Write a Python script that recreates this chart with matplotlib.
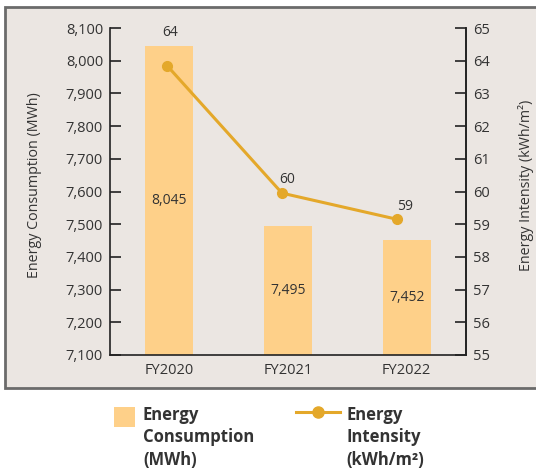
import matplotlib
matplotlib.use('Agg')
import matplotlib.pyplot as plt
from matplotlib.patches import Rectangle
from matplotlib.lines import Line2D

# Data
years = ['FY2020', 'FY2021', 'FY2022']
consumption = [8045, 7495, 7452]          # MWh
intensity = [63.85, 59.95, 59.15]          # kWh/m2
intensity_labels = ['64', '60', '59']
label_offsets = [(2, 24), (4, 10), (6, 9)]  # points from the markers

plt.rcParams['font.family'] = ['Open Sans', 'DejaVu Sans']
text_col = '#333333'
bar_col = '#FED089'
line_col = '#E4A82A'
bg_col = '#EBE6E2'

W, H = 536, 470
fig = plt.figure(figsize=(W / 100, H / 100), dpi=100)
fig.patch.set_facecolor('white')

# grey panel with border behind the chart
fig.add_artist(Rectangle((5 / W, 1 - 388 / H), 540 / W, 381 / H,
                         transform=fig.transFigure, facecolor=bg_col,
                         edgecolor='#6b6b6b', linewidth=2, zorder=0))

rect = [110 / W, 1 - 355 / H, 356 / W, 327 / H]
ax = fig.add_axes(rect)
ax.set_facecolor('none')
x = list(range(len(years)))
ax.bar(x, consumption, width=0.405, color=bar_col, zorder=1)
ax.set_ylim(7100, 8100)
ax.set_xlim(-0.5, 2.5)
ax.set_yticks(range(7100, 8101, 100))
ax.set_yticklabels([f'{v:,}' for v in range(7100, 8101, 100)])
ax.set_xticks(x)
ax.set_xticklabels(years)
ax.tick_params(axis='y', direction='in', length=8, width=1.2, colors='#222222',
               labelsize=10.5, pad=5, labelcolor=text_col)
ax.tick_params(axis='x', length=0, labelsize=10.5, labelcolor=text_col, pad=6)
for v, c in zip(x, consumption):
    ax.text(v, (c + 7100) / 2, f'{c:,}', ha='center', va='center',
            fontsize=10, color=text_col)
ax.spines['top'].set_visible(False)
for s in ['left', 'bottom', 'right']:
    ax.spines[s].set_linewidth(1.2)
    ax.spines[s].set_color('#222222')
ax.set_ylabel('Energy Consumption (MWh)', fontsize=10.3, color=text_col)
ax.yaxis.set_label_coords(-0.19, 0.52)

# line series on its own axes (slightly narrower category spacing, as in the original)
ax2 = fig.add_axes(rect)
ax2.set_facecolor('none')
ax2.plot(x, intensity, color=line_col, linewidth=2.2, marker='o',
         markersize=7, zorder=3)
ax2.set_xlim(-0.496, 2.6)
ax2.set_ylim(55, 65)
ax2.set_yticks(range(55, 66))
ax2.yaxis.tick_right()
ax2.yaxis.set_label_position('right')
ax2.xaxis.set_visible(False)
ax2.tick_params(axis='y', direction='in', length=8, width=1.2, colors='#222222',
                labelsize=10.5, labelcolor=text_col, pad=5)
for s in ['top', 'left', 'bottom']:
    ax2.spines[s].set_visible(False)
ax2.spines['right'].set_linewidth(1.2)
ax2.spines['right'].set_color('#222222')
for v, val, lab, off in zip(x, intensity, intensity_labels, label_offsets):
    ax2.annotate(lab, (v, val), xytext=off, textcoords='offset points',
                 ha='center', va='center', fontsize=10, color=text_col)
ax2.set_ylabel('Energy Intensity (kWh/m²)', fontsize=10.3, color=text_col)
ax2.yaxis.set_label_coords(1.146, 0.52)

# legend drawn below the panel
fig.add_artist(Rectangle((114 / W, 1 - 427 / H), 21 / W, 20 / H,
                         transform=fig.transFigure, facecolor=bar_col,
                         edgecolor='none'))
fig.text(143 / W, 1 - 406 / H, 'Energy\nConsumption\n(MWh)', fontsize=12,
         fontweight='bold', color=text_col, va='top', ha='left', linespacing=1.32)
fig.add_artist(Line2D([296 / W, 340 / W], [1 - 412 / H, 1 - 412 / H],
                      transform=fig.transFigure, color=line_col, linewidth=2.2))
fig.add_artist(Line2D([318 / W], [1 - 412 / H], transform=fig.transFigure,
                      color=line_col, marker='o', markersize=8))
fig.text(346 / W, 1 - 406 / H, 'Energy\nIntensity\n(kWh/m²)', fontsize=12,
         fontweight='bold', color=text_col, va='top', ha='left', linespacing=1.32)

fig.savefig('out.png', dpi=100, facecolor='white')
